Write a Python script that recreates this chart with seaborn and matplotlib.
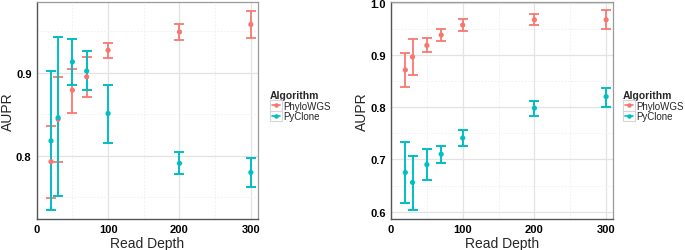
import numpy as np
import pandas as pd
import matplotlib
matplotlib.use("Agg")
import matplotlib.pyplot as plt
from matplotlib.lines import Line2D
from matplotlib.patches import Rectangle
from matplotlib.legend_handler import HandlerBase
from matplotlib.ticker import MultipleLocator
import seaborn as sns

# ---- data ----
depth = [20, 30, 50, 70, 100, 200, 300]
algorithms = ["PhyloWGS", "PyClone"]

# left panel
left_phylo = [0.793, 0.844, 0.879, 0.895, 0.927, 0.949, 0.958]
left_phylo_lo = [0.749, 0.793, 0.852, 0.871, 0.918, 0.939, 0.942]
left_phylo_hi = [0.836, 0.895, 0.905, 0.919, 0.936, 0.959, 0.974]
left_pyc = [0.818, 0.846, 0.913, 0.902, 0.851, 0.791, 0.780]
left_pyc_lo = [0.735, 0.752, 0.885, 0.879, 0.816, 0.778, 0.762]
left_pyc_hi = [0.902, 0.943, 0.941, 0.926, 0.885, 0.804, 0.797]

# right panel
right_phylo = [0.871, 0.896, 0.918, 0.938, 0.957, 0.967, 0.967]
right_phylo_lo = [0.838, 0.862, 0.905, 0.926, 0.946, 0.957, 0.950]
right_phylo_hi = [0.903, 0.931, 0.932, 0.950, 0.968, 0.978, 0.985]
right_pyc = [0.675, 0.656, 0.690, 0.710, 0.741, 0.798, 0.820]
right_pyc_lo = [0.617, 0.604, 0.661, 0.694, 0.726, 0.783, 0.801]
right_pyc_hi = [0.734, 0.706, 0.719, 0.726, 0.757, 0.812, 0.837]

colors = {"PhyloWGS": "#F8766D", "PyClone": "#00BFC4"}

sns.set_style("white")
plt.rcParams['font.family'] = ['Liberation Sans', 'DejaVu Sans']

fig = plt.figure(figsize=(6.85, 2.51), dpi=100)
axL = fig.add_axes([0.0536, 0.1235, 0.3230, 0.8645])
axR = fig.add_axes([0.5708, 0.1235, 0.3245, 0.8645])


class HandlerKey(HandlerBase):
    def create_artists(self, legend, orig_handle, xdescent, ydescent,
                       width, height, fontsize, trans):
        color = orig_handle.get_color()
        rect = Rectangle((-xdescent, -ydescent), width, height,
                         facecolor="white", edgecolor="#d6d6d6", lw=0.8,
                         transform=trans)
        cy = -ydescent + height / 2
        line = Line2D([-xdescent + 1.5, -xdescent + width - 1.5], [cy, cy],
                      color=color, lw=1.2, transform=trans)
        pt = Line2D([-xdescent + width / 2], [cy], color=color, marker="o",
                    markersize=3.2, lw=0, markeredgewidth=0, transform=trans)
        return [rect, line, pt]


def make_df(phylo, plo, phi, pyc, clo, chi):
    rows = []
    for a, v, lo, hi in [("PhyloWGS", phylo, plo, phi), ("PyClone", pyc, clo, chi)]:
        for d, vv, l, h in zip(depth, v, lo, hi):
            rows.append(dict(depth=d, AUPR=vv, lo=l, hi=h, Algorithm=a))
    return pd.DataFrame(rows)


def draw(ax, df, ylim, yticks, legend_x):
    ax.set_facecolor("white")
    ax.xaxis.set_major_locator(MultipleLocator(100))
    ax.xaxis.set_minor_locator(MultipleLocator(50))
    ax.yaxis.set_major_locator(MultipleLocator(0.1))
    ax.yaxis.set_minor_locator(MultipleLocator(0.05))
    ax.grid(True, which="major", color="#e3e3e3", lw=0.9)
    ax.grid(True, which="minor", color="#eeeeee", lw=0.6, ls=(0, (2, 2)))
    ax.set_axisbelow(True)
    for alg in algorithms:
        sub = df[df.Algorithm == alg]
        ax.errorbar(sub.depth, sub.AUPR,
                    yerr=[sub.AUPR - sub.lo, sub.hi - sub.AUPR],
                    fmt="none", ecolor=colors[alg], elinewidth=1.4,
                    capsize=3.6, capthick=1.4,
                    alpha=0.9 if alg == "PhyloWGS" else 1.0, zorder=3)
    sns.scatterplot(data=df, x="depth", y="AUPR", hue="Algorithm",
                    palette=colors, hue_order=algorithms, s=14,
                    edgecolor="none", ax=ax, legend=False, zorder=4)
    ax.set_xlim(0, 310)
    ax.set_ylim(*ylim)
    ax.set_xticks([0, 100, 200, 300])
    ax.set_yticks(yticks)
    ax.set_xlabel("Read Depth", fontsize=10, labelpad=1)
    ax.set_ylabel("AUPR", fontsize=10, labelpad=1)
    ax.tick_params(axis="both", which="major", labelsize=8, length=2.5,
                   width=0.9, color="black", pad=1.2, labelcolor="black")
    ax.tick_params(axis="both", which="minor", length=0)
    for lbl in ax.get_xticklabels() + ax.get_yticklabels():
        lbl.set_fontweight("bold")
    for s in ["top", "right"]:
        ax.spines[s].set_color("#9a9a9a")
        ax.spines[s].set_linewidth(0.9)
    for s in ["left", "bottom"]:
        ax.spines[s].set_color("#555555")
        ax.spines[s].set_linewidth(1.0)

    handles = [Line2D([0], [0], color=colors[a]) for a in algorithms]
    leg = fig.legend(handles, algorithms, title="Algorithm",
                     loc="upper left", bbox_to_anchor=(legend_x, 1 - 91 / 251),
                     bbox_transform=fig.transFigure,
                     frameon=False, fontsize=7, title_fontsize=7.5,
                     handlelength=1.2, handleheight=1.3,
                     handletextpad=0.2, labelspacing=0.0,
                     borderaxespad=0.0, borderpad=0.0,
                     handler_map={Line2D: HandlerKey()})
    leg.get_title().set_fontweight("bold")
    leg._legend_box.align = "left"


dfL = make_df(left_phylo, left_phylo_lo, left_phylo_hi, left_pyc, left_pyc_lo, left_pyc_hi)
dfR = make_df(right_phylo, right_phylo_lo, right_phylo_hi, right_pyc, right_pyc_lo, right_pyc_hi)

draw(axL, dfL, (0.724, 0.985), [0.8, 0.9], 270 / 685)
draw(axR, dfR, (0.586, 1.001), [0.6, 0.7, 0.8, 0.9, 1.0], 623 / 685)

fig.savefig("out.png", dpi=100)
